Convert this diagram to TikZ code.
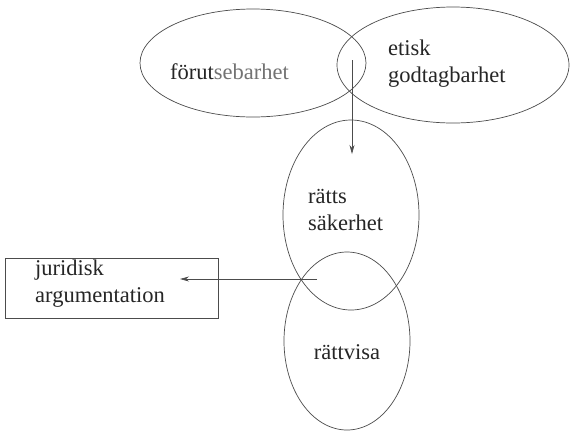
\documentclass[tikz,border=0pt]{standalone}
\usepackage{fontspec}
\setmainfont{Liberation Serif}
\usetikzlibrary{shapes.geometric,arrows.meta}
\begin{document}
\begin{tikzpicture}[x=1pt,y=-1pt,
  ring/.style={draw=black!70,line width=0.7pt,ellipse,inner sep=0pt},
  lbl/.style={font=\fontsize{22.5}{26.5}\selectfont,text=black!85,align=left,inner sep=0pt},
  link/.style={draw=black!70,line width=0.7pt,-{Stealth[length=9pt,width=5pt]}},
  frame/.style={draw=black!70,line width=0.7pt,inner sep=0pt}]
\useasboundingbox[fill=white] (0,0) rectangle (570,432);
% the four overlapping concepts
\node[ring,minimum width=226pt,minimum height=108pt] (forut) at (253,63) {};
\node[ring,minimum width=232pt,minimum height=116pt] (etisk) at (453,65) {};
\node[ring,minimum width=136pt,minimum height=190pt] (rs) at (351,215) {};
\node[ring,minimum width=126pt,minimum height=178pt] (rv) at (347,341) {};
% labels (base = baseline of the last line)
\node[lbl,anchor=base west] (tforut) at (170,79) {förut\textcolor{black!55}{sebarhet}};
\node[lbl,anchor=base west] (tetisk) at (388,82) {etisk\\godtagbarhet};
\node[lbl,anchor=base west] (trs) at (308,230) {rätts\\säkerhet};
\node[lbl,anchor=base] (trv) at (347,359) {rättvisa};
% the argumentation box
\node[frame,minimum width=213pt,minimum height=60pt] (box) at (111.5,288) {};
\node[lbl,anchor=base west] (tbox) at (35,302) {juridisk\\argumentation};
% connectors
\coordinate (topcut) at (352,60);
\coordinate (rstop) at (352,154);
\coordinate (lowcut) at (317,279);
\coordinate (boxin) at (180,279);
\draw[link] (topcut) -- (rstop);
\draw[link] (lowcut) -- (boxin);
\end{tikzpicture}
\end{document}
